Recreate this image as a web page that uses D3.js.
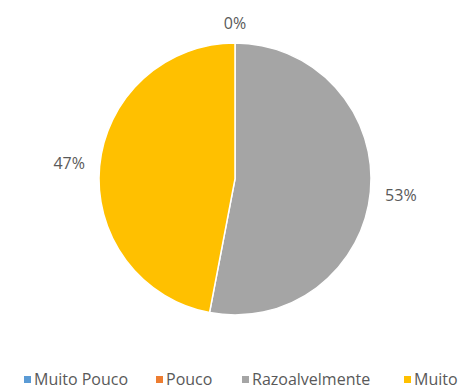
<!DOCTYPE html>
<html>
<head>
<meta charset="utf-8">
<script src="https://cdn.jsdelivr.net/npm/d3@7"></script>
<style>
  html, body { margin: 0; padding: 0; background: #fff; }
  svg { display: block; }
  text { font-family: "Open Sans", "Liberation Sans", sans-serif; }
</style>
</head>
<body>
<svg id="chart" width="470" height="389"></svg>
<script>
// Answer categories, their shares (percent) and colours
const categories = ["Muito Pouco", "Pouco", "Razoalvelmente", "Muito"];
const values = [0, 0, 53, 47];
const colors = ["#5B9BD5", "#ED7D31", "#A5A5A5", "#FFC000"];

const svg = d3.select("#chart");
const cx = 235, cy = 179, radius = 136;

const data = categories.map((c, i) => ({ category: c, value: values[i] }));

const pie = d3.pie().sort(null).value(d => d.value);
const arcs = pie(data);
const arc = d3.arc().innerRadius(0).outerRadius(radius);
const color = d3.scaleOrdinal().domain(categories).range(colors);

const g = svg.append("g").attr("transform", `translate(${cx},${cy})`);

g.selectAll("path.slice")
  .data(arcs.filter(d => d.value > 0))
  .join("path")
  .attr("class", "slice")
  .attr("d", arc)
  .attr("fill", d => color(d.data.category))
  .attr("stroke", "#fff")
  .attr("stroke-width", 1.5);

// Percentage labels placed just outside the rim; zero slices are labelled once at the top
const total = d3.sum(values);
const labelled = [];
let zeroDone = false;
arcs.forEach(d => {
  if (d.value === 0) {
    if (zeroDone) return;
    zeroDone = true;
  }
  labelled.push(d);
});

const gap = 13, halfW = 17, halfH = 7;
g.selectAll("text.pct")
  .data(labelled)
  .join("text")
  .attr("class", "pct")
  .attr("text-anchor", "middle")
  .attr("dominant-baseline", "central")
  .attr("font-size", 16)
  .attr("fill", "#595959")
  .attr("transform", d => {
    const a = (d.startAngle + d.endAngle) / 2;
    const sx = Math.sin(a), cy2 = -Math.cos(a);
    const off = radius + gap + Math.abs(sx) * halfW + Math.abs(cy2) * halfH;
    return `translate(${sx * off},${cy2 * off})`;
  })
  .text(d => Math.round(d.value / total * 100) + "%");

// Legend along the bottom
const legendX = [24, 156, 242, 404];
const legend = svg.append("g").attr("transform", "translate(0,379)");
const items = legend.selectAll("g.item")
  .data(categories)
  .join("g")
  .attr("class", "item")
  .attr("transform", (d, i) => `translate(${legendX[i]},0)`);

items.append("rect")
  .attr("x", 0).attr("y", -3)
  .attr("width", 7).attr("height", 7)
  .attr("fill", d => color(d));

items.append("text")
  .attr("x", 10)
  .attr("y", 0)
  .attr("dominant-baseline", "central")
  .attr("font-size", 16)
  .attr("fill", "#595959")
  .text(d => d);
</script>
</body>
</html>
